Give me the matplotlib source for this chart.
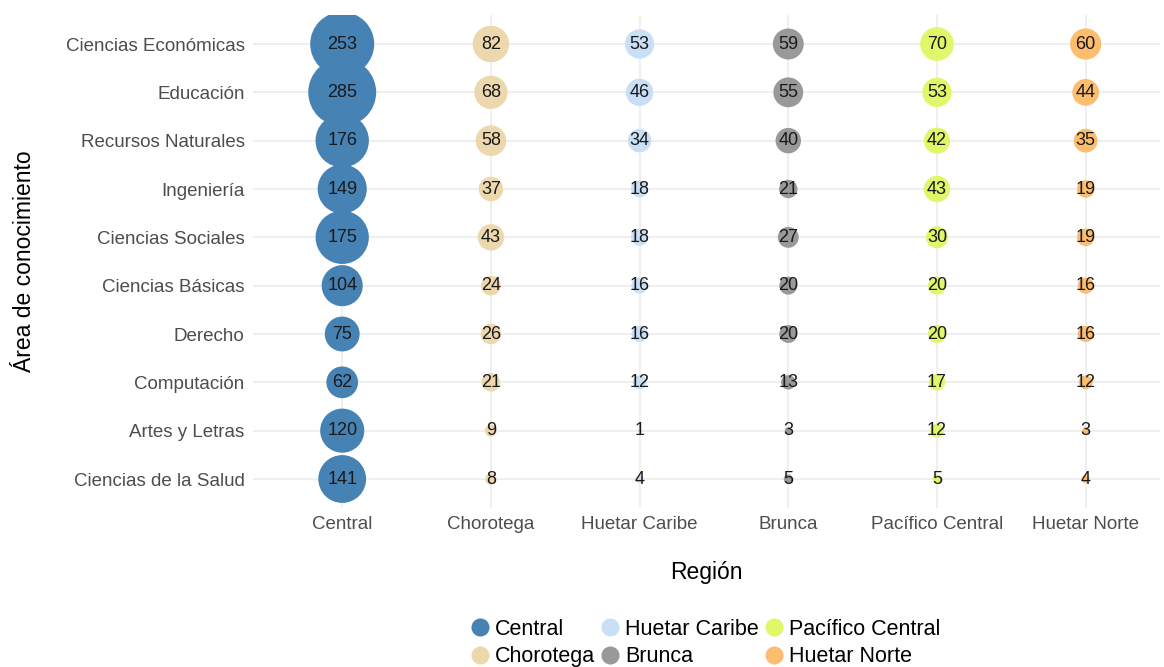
import numpy as np
import matplotlib.pyplot as plt
from matplotlib.lines import Line2D

plt.rcParams['font.family'] = ['Liberation Sans', 'DejaVu Sans']

areas = ['Ciencias Económicas', 'Educación', 'Recursos Naturales', 'Ingeniería',
         'Ciencias Sociales', 'Ciencias Básicas', 'Derecho', 'Computación',
         'Artes y Letras', 'Ciencias de la Salud']
regions = ['Central', 'Chorotega', 'Huetar Caribe', 'Brunca', 'Pacífico Central', 'Huetar Norte']

central = [253, 285, 176, 149, 175, 104, 75, 62, 120, 141]
chorotega = [82, 68, 58, 37, 43, 24, 26, 21, 9, 8]
huetar_caribe = [53, 46, 34, 18, 18, 16, 16, 12, 1, 4]
brunca = [59, 55, 40, 21, 27, 20, 20, 13, 3, 5]
pacifico_central = [70, 53, 42, 43, 30, 20, 20, 17, 12, 5]
huetar_norte = [60, 44, 35, 19, 19, 16, 16, 12, 3, 4]

series = [central, chorotega, huetar_caribe, brunca, pacifico_central, huetar_norte]
colors = ['#4682B4', '#EDD8AE', '#C8DFF6', '#999999', '#E0F76A', '#FDBD6E']

fig = plt.figure(figsize=(11.64, 6.67), dpi=100)
ax = fig.add_axes([253 / 1164, 1 - 508 / 667, (1160 - 253) / 1164, (508 - 15) / 667])

y = np.arange(len(areas))
size_scale = 8.4  # points^2 per unit, area proportional to value

for i, (vals, col) in enumerate(zip(series, colors)):
    vals = np.array(vals)
    ax.scatter(np.full(len(vals), i), y, s=vals * size_scale, color=col,
               edgecolors='none', zorder=2)
    for yy, v in zip(y, vals):
        ax.text(i, yy, str(v), ha='center', va='center', fontsize=13,
                color='#1a1a1a', zorder=3)

ax.set_xlim(-0.6, 5.5)
ax.set_ylim(len(areas) - 0.4, -0.6)
ax.set_xticks(range(len(regions)))
ax.set_xticklabels(regions)
ax.set_yticks(y)
ax.set_yticklabels(areas)
ax.tick_params(axis='both', length=0, labelsize=13.5, colors='#4D4D4D', pad=6)
for sp in ax.spines.values():
    sp.set_visible(False)
ax.grid(True, color='#EBEBEB', linewidth=1.1, zorder=0)
ax.set_axisbelow(True)

ax.set_xlabel('Región', fontsize=16.5, labelpad=20)
ax.set_ylabel('Área de conocimiento', fontsize=16.5, labelpad=21)

handles = [Line2D([], [], marker='o', linestyle='none', markersize=13,
                  markerfacecolor=c, markeredgecolor='none') for c in colors]
fig.legend(handles, regions, loc='center', bbox_to_anchor=(704 / 1164, 1 - 643 / 667),
           ncol=3, frameon=False, fontsize=15.5, handletextpad=0.1,
           columnspacing=0.1, labelspacing=0.3, borderpad=0, handlelength=1.2)

fig.savefig('out.png', dpi=100)
